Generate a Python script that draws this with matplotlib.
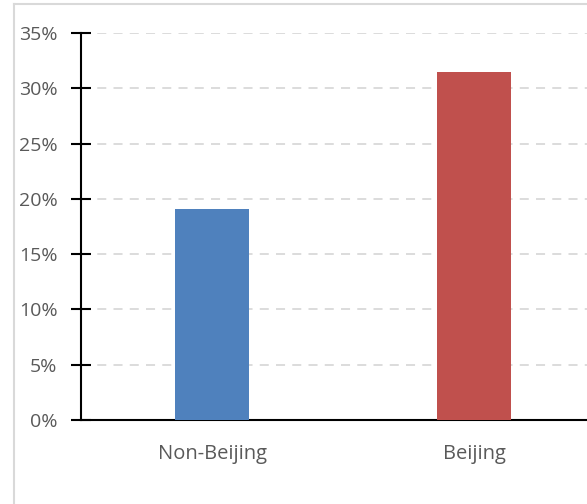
import matplotlib.pyplot as plt
from matplotlib.ticker import PercentFormatter
from matplotlib.lines import Line2D

categories = ["Non-Beijing", "Beijing"]
shares = [0.191, 0.315]
bar_colors = ["#4F81BD", "#C0504D"]
y_ticks = [0, 0.05, 0.10, 0.15, 0.20, 0.25, 0.30, 0.35]

plt.rcParams["font.family"] = ["Open Sans", "DejaVu Sans"]

fig = plt.figure(figsize=(5.87, 5.04), dpi=100)
ax = fig.add_axes([81 / 587, 84 / 504, 524 / 587, 387 / 504])

ax.bar(range(len(categories)), shares, width=0.286, color=bar_colors, zorder=3)
ax.set_xlim(-0.5, 1.5)
ax.set_ylim(0, 0.35)
ax.set_yticks(y_ticks)
ax.yaxis.set_major_formatter(PercentFormatter(1.0, decimals=0))
ax.set_xticks(range(len(categories)))
ax.set_xticklabels(categories)

ax.grid(axis="y", color="#D9D9D9", linestyle=(0, (5, 4)), linewidth=1.3, zorder=0)
for side in ["top", "right"]:
    ax.spines[side].set_visible(False)
ax.spines["left"].set_linewidth(1.5)
ax.spines["bottom"].set_linewidth(1.5)
ax.tick_params(axis="y", direction="inout", length=14, width=1.5, labelsize=14,
               labelcolor="#595959", pad=10)
ax.tick_params(axis="x", length=0, labelsize=14.5, labelcolor="#595959", pad=17)

# chart-area border (left and top edges visible)
fig.add_artist(Line2D([14 / 587, 14 / 587], [0, 1 - 4 / 504], color="#D9D9D9", linewidth=1.5))
fig.add_artist(Line2D([14 / 587, 1], [1 - 4 / 504, 1 - 4 / 504], color="#D9D9D9", linewidth=1.5))

fig.savefig("out.png", dpi=100)
